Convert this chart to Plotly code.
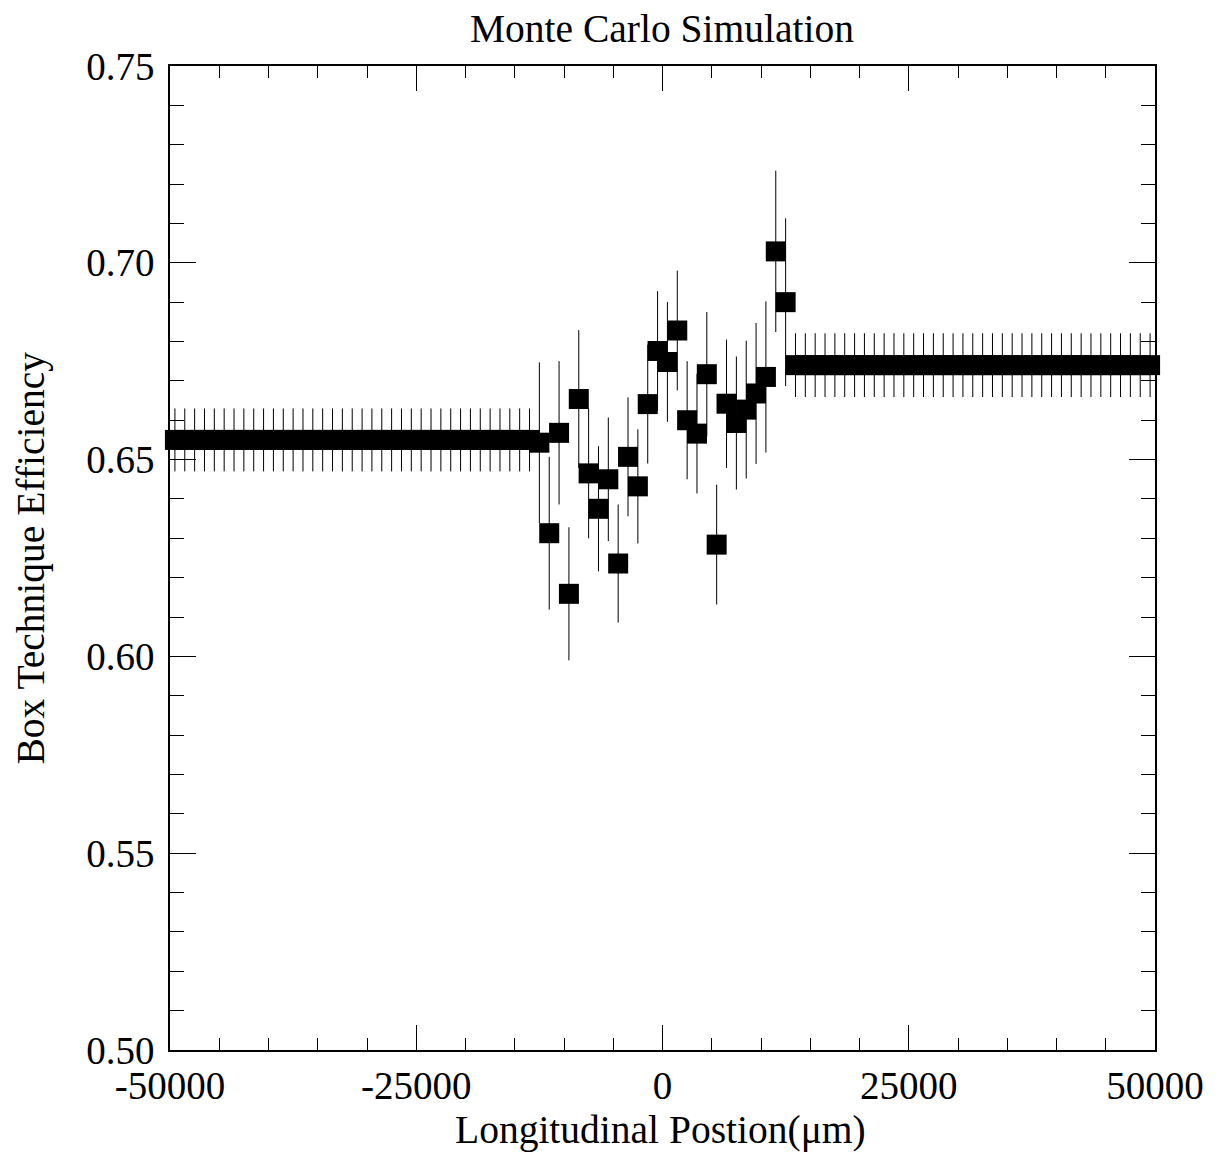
import plotly.graph_objects as go

# Bin centres (µm) — 100 bins of 1000 µm across the axis
positions = list(range(-49500, 50000, 1000))

left_eff = [0.655, 0.655, 0.655, 0.655, 0.655, 0.655, 0.655, 0.655, 0.655, 0.655,
            0.655, 0.655, 0.655, 0.655, 0.655, 0.655, 0.655, 0.655, 0.655, 0.655,
            0.655, 0.655, 0.655, 0.655, 0.655, 0.655, 0.655, 0.655, 0.655, 0.655,
            0.655, 0.655, 0.655, 0.655, 0.655, 0.655, 0.655]
left_err = [0.008, 0.008, 0.008, 0.008, 0.008, 0.008, 0.008, 0.008, 0.008, 0.008,
            0.008, 0.008, 0.008, 0.008, 0.008, 0.008, 0.008, 0.008, 0.008, 0.008,
            0.008, 0.008, 0.008, 0.008, 0.008, 0.008, 0.008, 0.008, 0.008, 0.008,
            0.008, 0.008, 0.008, 0.008, 0.008, 0.008, 0.008]

center_eff = [0.6543, 0.6313, 0.6568, 0.6159, 0.6654, 0.6465, 0.6375, 0.6450, 0.6236,
              0.6507, 0.6432, 0.6641, 0.6776, 0.6748, 0.6828, 0.6600, 0.6566, 0.6717,
              0.6284, 0.6642, 0.6593, 0.6627, 0.6668, 0.6710, 0.7029, 0.6900]
center_err = [0.0204, 0.0194, 0.0182, 0.0169, 0.0175, 0.0165, 0.0159, 0.0157, 0.0150,
              0.0151, 0.0145, 0.0151, 0.0152, 0.0152, 0.0152, 0.0150, 0.0152, 0.0158,
              0.0152, 0.0163, 0.0169, 0.0175, 0.0179, 0.0192, 0.0205, 0.0213]

right_eff = [0.674, 0.674, 0.674, 0.674, 0.674, 0.674, 0.674, 0.674, 0.674, 0.674,
             0.674, 0.674, 0.674, 0.674, 0.674, 0.674, 0.674, 0.674, 0.674, 0.674,
             0.674, 0.674, 0.674, 0.674, 0.674, 0.674, 0.674, 0.674, 0.674, 0.674,
             0.674, 0.674, 0.674, 0.674, 0.674, 0.674, 0.674]
right_err = [0.0081, 0.0081, 0.0081, 0.0081, 0.0081, 0.0081, 0.0081, 0.0081, 0.0081, 0.0081,
             0.0081, 0.0081, 0.0081, 0.0081, 0.0081, 0.0081, 0.0081, 0.0081, 0.0081, 0.0081,
             0.0081, 0.0081, 0.0081, 0.0081, 0.0081, 0.0081, 0.0081, 0.0081, 0.0081, 0.0081,
             0.0081, 0.0081, 0.0081, 0.0081, 0.0081, 0.0081, 0.0081]

efficiency = left_eff + center_eff + right_eff
errors = left_err + center_err + right_err

x_ticks = [-50000, -25000, 0, 25000, 50000]
x_tick_labels = ["-50000", "-25000", "0", "25000", "50000"]
y_ticks = [0.50, 0.55, 0.60, 0.65, 0.70, 0.75]
y_tick_labels = ["0.50", "0.55", "0.60", "0.65", "0.70", "0.75"]

FONT = "Liberation Serif, Times New Roman, serif"

fig = go.Figure()
fig.add_trace(go.Scatter(
    x=positions, y=efficiency, mode="markers",
    marker=dict(symbol="square", size=20, color="black", line=dict(width=0)),
    error_y=dict(type="data", array=errors, visible=True, thickness=1,
                 width=0, color="black"),
    cliponaxis=False, showlegend=False,
))

axis_common = dict(
    showline=True, linecolor="black", linewidth=1.5, mirror="allticks",
    ticks="inside", tickcolor="black", tickwidth=1,
    showgrid=False, zeroline=False,
    tickfont=dict(family=FONT, size=39, color="black"),
)

fig.update_xaxes(
    range=[-50000, 50000], tickmode="array", tickvals=x_ticks, ticktext=x_tick_labels,
    ticklen=25,
    minor=dict(dtick=5000, ticklen=12, ticks="inside", tickcolor="black", tickwidth=1, showgrid=False),
    **axis_common,
)
fig.update_yaxes(
    range=[0.50, 0.75], tickmode="array", tickvals=y_ticks, ticktext=y_tick_labels,
    ticklen=26, ticklabelstandoff=6,
    minor=dict(dtick=0.01, ticklen=14, ticks="inside", tickcolor="black", tickwidth=1, showgrid=False),
    **axis_common,
)

fig.add_annotation(
    text="Longitudinal Postion(μm)", xref="paper", yref="paper", x=0.4975, y=-0.0813,
    xanchor="center", yanchor="middle", showarrow=False, borderpad=0,
    font=dict(family=FONT, size=39.5, color="black"),
)
fig.add_annotation(
    text="Box Technique Efficiency", xref="paper", yref="paper", x=-0.1415, y=0.5,
    xanchor="center", yanchor="middle", textangle=-90, showarrow=False, borderpad=0,
    font=dict(family=FONT, size=39.5, color="black"),
)

fig.update_layout(
    width=1210, height=1150,
    margin=dict(l=162, r=63, t=58, b=108),
    paper_bgcolor="white", plot_bgcolor="white",
    title=dict(text="Monte Carlo Simulation", x=0.5405, xanchor="center", y=0.9826, yanchor="middle",
               font=dict(family=FONT, size=39.5, color="black")),
)

fig.write_html("out.html")
